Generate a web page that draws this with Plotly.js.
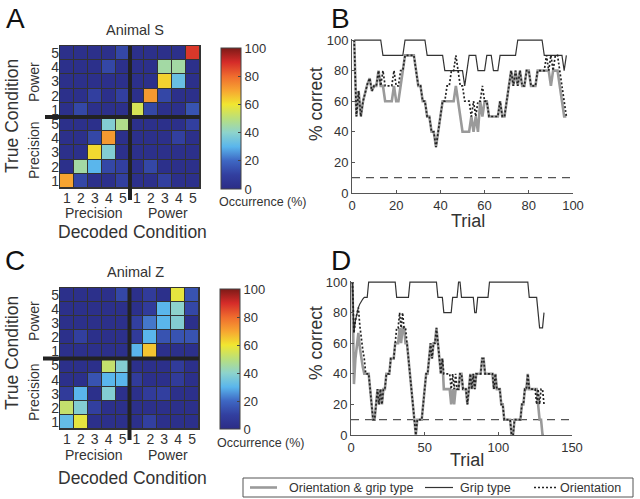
<!DOCTYPE html>
<html><head><meta charset="utf-8">
<script src="https://cdn.plot.ly/plotly-3.0.1.min.js"></script>
<style>html,body{margin:0;padding:0;background:#fff}#chart{width:640px;height:499px}</style>
</head><body><div id="chart"></div>
<script>
// ---------- DATA ----------
const conditionTicks = ['1','2','3','4','5','1','2','3','4','5'];
// confusion matrices, rows listed from top (Power 5) to bottom (Precision 1);
// columns: Precision 1..5, Power 1..5
const animalS = [
  [2,2,2,2,12, 2,2,2,2,88],
  [2,2,2,12,2, 2,2,45,45,2],
  [2,2,2,2,2, 2,2,63,33,2],
  [2,2,10,2,10, 2,72,12,2,2],
  [2,12,2,2,2, 55,12,2,2,15],
  [2,2,2,38,48, 2,2,2,2,10],
  [2,2,12,72,2, 2,2,2,10,2],
  [2,2,62,38,2, 2,2,2,2,2],
  [2,45,30,12,10, 2,12,2,2,2],
  [70,12,2,2,10, 2,2,10,2,2]
];
const animalZ = [
  [2,2,2,2,12, 2,8,2,58,15],
  [2,2,2,2,2, 2,8,30,40,12],
  [2,2,2,2,2, 10,22,30,38,2],
  [2,10,2,2,2, 8,30,15,15,15],
  [2,2,2,2,2, 30,65,2,2,2],
  [2,2,2,52,38, 2,2,2,8,2],
  [2,2,15,30,30, 8,2,2,8,2],
  [8,30,2,38,2, 2,8,10,2,2],
  [52,38,10,2,2, 2,2,2,2,2],
  [32,58,2,2,2, 2,10,2,2,2]
];

// Panel B (Animal S), % correct per trial
const gripB = [100,100,100,100,100,100,100,100,100,100,100,100,100,
  90,90,90,90,90,90,90,90,90,90,
  100,100,100,100,100,100,100,100,100,100,
  90,90,90,90,90,90,90,90,
  80,80,80,80,80,80,80,80,80,
  70,80,90,90,90,90,80,80,80,80,90,90,90,80,80,80,
  90,90,90,90,90,90,90,90,
  100,100,100,100,100,100,100,100,100,100,100,100,
  90,90,90,90,90,90,90,90,90,80,90];
const orientB = [100,50,66.7,50,60,66.7,71.4,75,66.7,70,
  70,80,70,80,70,70,70,70,80,70,
  70,80,80,90,90,90,90,90,80,70,
  70,60,60,50,50,40,40,30,40,50,
  60,60,70,70,80,80,90,80,70,70,
  60,60,60,50,60,50,60,60,70,60,
  60,50,50,50,50,50,60,50,50,60,
  70,80,70,80,70,80,70,70,80,80,
  70,70,70,80,80,80,80,90,80,90,
  80,90,90,80,70,60,50];
const combB = [100,50,66.7,50,60,66.7,71.4,75,66.7,70,
  70,80,70,70,60,60,60,60,70,60,
  60,70,80,90,90,90,90,90,80,70,
  70,60,60,50,50,40,40,30,40,50,
  60,60,60,60,60,60,70,60,50,40,
  40,40,40,50,40,50,40,60,50,60,
  60,50,50,50,50,50,60,50,50,60,
  70,80,70,80,70,80,70,70,80,80,
  70,70,70,80,80,80,80,80,80,70,
  80,80,80,70,60,50,50];

// Panel D (Animal Z)
const gripD = [100,66.7,75,80,83.3,85.7,87.5,88.9,90,90,90,
  100,100,100,100,100,100,100,100,100,100,100,100,100,100,100,100,100,100,100,
  90,90,90,90,90,90,90,90,90,
  100,100,100,100,100,100,100,100,100,100,100,100,100,100,100,100,100,100,100,
  90,90,90,90,
  80,80,80,80,80,80,
  90,90,90,90,
  100,100,
  90,90,90,90,90,90,90,90,90,
  80,80,
  90,90,90,90,90,90,90,90,
  100,100,100,100,100,100,100,100,100,100,100,100,100,100,100,100,100,100,100,100,100,100,100,100,100,100,100,
  90,90,90,90,90,90,
  80,70,70,70,80];
const orientD = [100,66.7,75,80,83.3,71.4,62.5,55.6,50,40,
  40,40,30,20,10,10,20,30,20,30,
  20,30,30,40,40,40,50,50,50,60,
  70,70,80,70,80,70,70,60,50,40,
  30,20,10,0,10,10,10,10,20,30,
  40,40,50,60,50,60,60,70,60,50,
  40,50,40,40,40,40,40,30,40,30,
  40,30,30,40,40,30,30,30,20,30,
  40,30,40,30,40,40,40,40,50,50,
  40,40,40,40,40,40,30,40,30,30,
  30,20,20,10,10,10,10,10,0,0,
  10,10,10,10,10,20,20,30,30,40,
  30,30,30,30,30,20,30,20,30,30,
  20];
const combD = [100,33.3,50,60,66.7,57.1,50,44.4,40,40,
  40,40,30,20,10,10,20,30,20,30,
  20,30,30,40,40,40,50,50,50,60,
  60,60,70,60,70,70,60,60,50,40,
  30,20,10,0,10,10,10,10,20,30,
  40,40,50,60,50,60,60,70,60,50,
  40,50,30,30,30,30,30,20,30,20,
  30,30,30,40,40,30,30,30,20,30,
  40,30,40,30,40,40,40,40,50,50,
  40,40,40,40,40,40,30,40,30,30,
  30,20,20,10,10,10,10,10,0,0,
  10,10,10,10,10,20,20,30,30,40,
  30,30,30,30,30,30,20,10,10,0,
  0];
const chanceLevel = 10;
const seriesNames = ['Orientation & grip type','Grip type','Orientation'];

// ---------- helpers ----------
const W = 640, H = 499;
const px = x => x / W;
const py = y => 1 - y / H;
const idx = n => Array.from({length: n}, (_, i) => i);
const trialsOf = arr => arr.map((_, i) => i + 1);
const bottomUp = m => m.slice().reverse();

const jetLike = [[0,'#2b2c86'],[0.1,'#323f9f'],[0.2,'#3e67c3'],[0.3,'#5ab6ec'],[0.4,'#8dd3cc'],
  [0.5,'#b9df7c'],[0.6,'#f1e630'],[0.7,'#f7a431'],[0.8,'#ef6b2e'],[0.9,'#d52b29'],[1,'#7d1a17']];

function heat(z, xa, ya, cb) {
  return {type:'heatmap', z: bottomUp(z), x: idx(10), y: idx(10), xaxis: xa, yaxis: ya,
    zmin:0, zmax:100, colorscale: jetLike, xgap:1, ygap:1, hoverinfo:'skip',
    colorbar: Object.assign({xanchor:'left', yanchor:'bottom', xpad:0, ypad:0,
      lenmode:'pixels', thicknessmode:'pixels', thickness:20,
      outlinecolor:'#444', outlinewidth:1, tickvals:[0,20,40,60,80,100],
      ticks:'inside', ticklen:3, tickcolor:'#444', tickfont:{size:13, color:'#333'}}, cb)};
}

const lineStyles = [
  {color:'#9a9a9a', width:2.6},
  {color:'#333', width:1.2},
  {color:'#222', width:1.7, dash:'2px,2px'}
];
function lines(series, xa, ya) {
  return series.map((s, k) => ({type:'scatter', mode:'lines', x: trialsOf(s), y: s,
    xaxis: xa, yaxis: ya, name: seriesNames[k], line: lineStyles[k],
    showlegend: false, hoverinfo:'skip'}));
}
function chance(xmax, xa, ya) {
  return {type:'scatter', mode:'lines', x:[0, xmax], y:[chanceLevel, chanceLevel],
    xaxis: xa, yaxis: ya, line:{color:'#555', width:1.2, dash:'8px,6px'}, showlegend:false, hoverinfo:'skip'};
}

const data = [
  heat(animalS, 'x', 'y', {x: px(221), y: py(189), len: 141}),
  heat(animalZ, 'x3', 'y3', {x: px(220), y: py(429), len: 140}),
  chance(100, 'x2', 'y2'),
  ...lines([combB, gripB, orientB], 'x2', 'y2'),
  chance(150, 'x4', 'y4'),
  ...lines([combD, gripD, orientD], 'x4', 'y4')
];

const heatAxis = (d, anchor) => ({domain: d, anchor, range:[-0.5, 9.5], tickvals: idx(10), ticktext: conditionTicks,
  showgrid:false, zeroline:false, showline:false, ticks:'', ticklen:0, tickfont:{size:14, color:'#333'}, fixedrange:true});
const lineAxis = (d, anchor, range, tv) => ({domain: d, anchor, range, tickvals: tv,
  showgrid:false, zeroline:false, showline:true, linecolor:'#555', linewidth:1,
  ticks:'inside', ticklen:3, tickcolor:'#555', tickfont:{size:13, color:'#333'}, fixedrange:true});

function ann(text, x, y, size, extra) {
  return Object.assign({text, xref:'paper', yref:'paper', x: px(x), y: py(y), showarrow:false,
    xanchor:'center', yanchor:'middle', font:{size, color:'#333'}}, extra || {});
}

function heatShapes(x0, x1, y0, y1, hx0, vy1) {
  const xm = (x0 + x1) / 2, ym = (y0 + y1) / 2;
  return [
    {type:'rect', xref:'paper', yref:'paper', x0: px(x0-1), x1: px(x1+1), y0: py(y1+1), y1: py(y0-1),
     fillcolor:'#333', line:{width:0}, layer:'below'},
    {type:'line', xref:'paper', yref:'paper', x0: px(xm), x1: px(xm), y0: py(y0), y1: py(vy1),
     line:{color:'#222', width:4}},
    {type:'line', xref:'paper', yref:'paper', x0: px(hx0), x1: px(x1), y0: py(ym), y1: py(ym),
     line:{color:'#222', width:4}}
  ];
}

// legend box (drawn by hand so its size matches the reference)
const legendItems = [
  {x0:250, x1:277, tx:287},
  {x0:425, x1:453, tx:458},
  {x0:534, x1:556, tx:558}
];
const legendY = 487.5;
const legendShapes = [
  {type:'rect', xref:'paper', yref:'paper', x0: px(243), x1: px(633), y0: py(497), y1: py(478),
   line:{color:'#555', width:1}, fillcolor:'#fff'},
  ...legendItems.map((it, k) => ({type:'line', xref:'paper', yref:'paper', x0: px(it.x0), x1: px(it.x1),
   y0: py(legendY), y1: py(legendY), line: lineStyles[k]}))
];
const legendTexts = legendItems.map((it, k) => ann(seriesNames[k], it.tx, legendY, 12.5, {xanchor:'left'}));

const layout = {
  width: W, height: H, margin:{l:0, r:0, t:0, b:0, autoexpand:false},
  paper_bgcolor:'#fff', plot_bgcolor:'#fff',
  font:{family:'Liberation Sans, Arial, sans-serif', color:'#333'},
  xaxis: heatAxis([px(60), px(200)], 'y'),
  yaxis: heatAxis([py(188), py(46)], 'x'),
  xaxis3: heatAxis([px(60), px(199)], 'y3'),
  yaxis3: heatAxis([py(429), py(288)], 'x3'),
  xaxis2: lineAxis([px(352), px(573)], 'y2', [0, 100], [0,20,40,60,80,100]),
  yaxis2: lineAxis([py(193), py(38.5)], 'x2', [0, 101], [0,20,40,60,80,100]),
  xaxis4: lineAxis([px(351), px(572)], 'y4', [0, 150], [0,50,100,150]),
  yaxis4: lineAxis([py(435), py(280.5)], 'x4', [0, 101], [0,20,40,60,80,100]),
  showlegend: false,
  shapes: [
    ...heatShapes(60, 200, 46, 188, 45, 200),
    ...heatShapes(60, 199, 288, 429, 43, 440),
    ...legendShapes
  ],
  annotations: [
    ann('A', 15, 18, 28, {font:{size:28, color:'#111'}}),
    ann('B', 340, 18, 28, {font:{size:28, color:'#111'}}),
    ann('C', 15, 260, 28, {font:{size:28, color:'#111'}}),
    ann('D', 341, 260, 28, {font:{size:28, color:'#111'}}),
    ann('Animal S', 135, 30, 14.5),
    ann('Animal Z', 135, 272, 14.5),
    ann('True Condition', 12, 116, 17.5, {textangle:-90}),
    ann('Power', 34, 82, 14, {textangle:-90}),
    ann('Precision', 34, 150, 14, {textangle:-90}),
    ann('Precision', 94, 213, 14),
    ann('Power', 168, 213, 14),
    ann('Decoded Condition', 132, 232, 17.5),
    ann('Occurrence (%)', 263, 202, 12.5),
    ann('True Condition', 12, 353, 17.5, {textangle:-90}),
    ann('Power', 34, 321, 14, {textangle:-90}),
    ann('Precision', 34, 392, 14, {textangle:-90}),
    ann('Precision', 94, 455, 14),
    ann('Power', 168, 455, 14),
    ann('Decoded Condition', 132, 478, 17.5),
    ann('Occurrence (%)', 261, 443, 12.5),
    ann('% correct', 316, 104, 17.5, {textangle:-90}),
    ann('% correct', 316, 343, 17.5, {textangle:-90}),
    ann('Trial', 468, 221, 18),
    ann('Trial', 467, 460, 18),
    ...legendTexts
  ]
};

Plotly.newPlot('chart', data, layout, {staticPlot:true, displayModeBar:false});
</script></body></html>
